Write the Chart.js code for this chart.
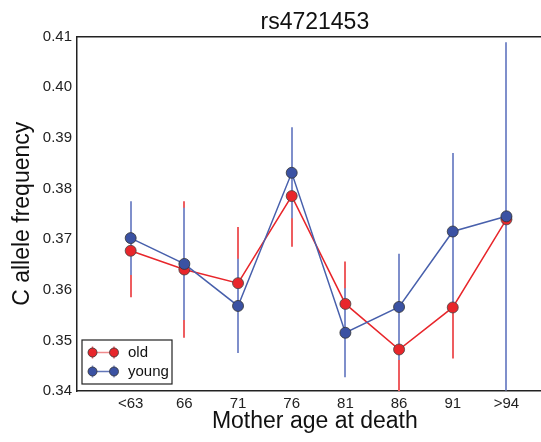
<!DOCTYPE html>
<html>
<head>
<meta charset="utf-8">
<script src="https://cdn.jsdelivr.net/npm/chart.js@4"></script>
<style>
  html, body { margin: 0; padding: 0; background: #fff; overflow: hidden; }
  #wrap { width: 559px; height: 442px; position: relative; }
</style>
</head>
<body>
<div id="wrap"><canvas id="lineChart"></canvas></div>
<script>
const categories = ["<63", "66", "71", "76", "81", "86", "91", ">94"];
const yTicks = [0.34, 0.35, 0.36, 0.37, 0.38, 0.39, 0.40, 0.41];

const oldFreq = [0.3677, 0.3640, 0.3613, 0.3785, 0.3572, 0.3482, 0.3565, 0.3739];
const oldErr = [0.0092, 0.0135, 0.0111, 0.0100, 0.0084, 0.0095, 0.0101, 0.0250];
const youngFreq = [0.3702, 0.3651, 0.3568, 0.3831, 0.3515, 0.3566, 0.3715, 0.3745];
const youngErr = [0.0073, 0.0111, 0.0093, 0.0090, 0.0088, 0.0105, 0.0155, 0.0344];

const FONT = "'Liberation Sans', Arial, sans-serif";
const RED = "#e8262b";
const BLUE = "#3b52a3";

// all error bars go under all lines and markers (old first, then young)
const errorBars = {
  id: "errorBars",
  beforeDatasetsDraw(chart) {
    const { ctx, chartArea, scales } = chart;
    ctx.save();
    ctx.beginPath();
    ctx.rect(chartArea.left, chartArea.top, chartArea.width, chartArea.height);
    ctx.clip();
    ctx.lineWidth = 2;
    chart.data.datasets.forEach((ds) => {
      if (!ds.errors) return;
      ctx.strokeStyle = ds.errorColor;
      ds.data.forEach((p, i) => {
        // snap to whole pixels so the upper bar hides the lower one completely
        const x = Math.round(scales.x.getPixelForValue(p.x));
        const y1 = scales.y.getPixelForValue(p.y - ds.errors[i]);
        const y2 = scales.y.getPixelForValue(p.y + ds.errors[i]);
        ctx.beginPath();
        ctx.moveTo(x, y1);
        ctx.lineTo(x, y2);
        ctx.stroke();
      });
    });
    ctx.restore();
  },
};

// legend box in the lower left corner of the axes
const boxLegend = {
  id: "boxLegend",
  afterDraw(chart) {
    const { ctx, chartArea } = chart;
    const left = chartArea.left + 5;
    const bottom = chartArea.bottom - 7;
    const w = 90, h = 44;
    const top = bottom - h;
    ctx.save();
    ctx.fillStyle = "#fff";
    ctx.fillRect(left, top, w, h);
    ctx.strokeStyle = "#222";
    ctx.lineWidth = 1.2;
    ctx.strokeRect(left, top, w, h);
    const items = [chart.data.datasets[0], chart.data.datasets[1]];
    items.forEach((ds, i) => {
      const y = top + 12.5 + i * 19;
      const x1 = left + 10.5, x2 = left + 32;
      ctx.strokeStyle = ds.errorColor;
      ctx.lineWidth = 1.5;
      [x1, x2].forEach((x) => {
        ctx.beginPath();
        ctx.moveTo(x, y - 6);
        ctx.lineTo(x, y + 6);
        ctx.stroke();
      });
      ctx.strokeStyle = ds.legendLine;
      ctx.beginPath();
      ctx.moveTo(x1, y);
      ctx.lineTo(x2, y);
      ctx.stroke();
      [x1, x2].forEach((x) => {
        ctx.beginPath();
        ctx.arc(x, y, 4.5, 0, Math.PI * 2);
        ctx.fillStyle = ds.pointBackgroundColor;
        ctx.fill();
        ctx.lineWidth = 0.8;
        ctx.strokeStyle = "#333";
        ctx.stroke();
      });
      ctx.fillStyle = "#111";
      ctx.font = "15px " + FONT;
      ctx.textBaseline = "middle";
      ctx.textAlign = "left";
      ctx.fillText(ds.label, left + 46, y);
    });
    ctx.restore();
  },
};

const dados = {
  datasets: [
    {
      label: "old",
      data: oldFreq.map((v, i) => ({ x: i, y: v })),
      errors: oldErr,
      errorColor: "#ee5d60",
      legendLine: "#f08a8c",
      borderColor: RED,
      borderWidth: 1.5,
      pointRadius: 5.5,
      pointBackgroundColor: RED,
      pointBorderColor: "#444",
      pointBorderWidth: 0.8,
      order: 2,
    },
    {
      label: "young",
      data: youngFreq.map((v, i) => ({ x: i, y: v })),
      errors: youngErr,
      errorColor: "#7f8fcb",
      legendLine: "#6276b8",
      borderColor: "#4860ac",
      borderWidth: 1.5,
      pointRadius: 5.5,
      pointBackgroundColor: BLUE,
      pointBorderColor: "#333",
      pointBorderWidth: 0.8,
      order: 1,
    },
  ],
};

const config = {
  type: "line",
  data: dados,
  options: {
    responsive: true,
    maintainAspectRatio: false,
    animation: false,
    layout: { padding: 0 },
    plugins: {
      legend: { display: false },
      tooltip: { enabled: false },
    },
    scales: {
      x: {
        type: "linear",
        position: "bottom",
        min: -1,
        max: 7.862,
        afterBuildTicks: (s) => {
          s.ticks = categories.map((c, i) => ({ value: i }));
        },
        afterFit: (s) => { s.height = 51; },
        grid: { display: false, drawTicks: false },
        border: { display: true, color: "#222", width: 1.5 },
        ticks: {
          padding: 4,
          maxRotation: 0,
          color: "#222",
          font: { family: FONT, size: 15 },
          callback: (v) => categories[v],
        },
        title: {
          display: true,
          text: "Mother age at death",
          color: "#111",
          font: { family: FONT, size: 23 },
          padding: { top: 0, bottom: 7 },
        },
      },
      x2: {
        type: "linear",
        position: "top",
        grid: { display: false, drawTicks: false },
        border: { display: true, color: "#222", width: 1.5 },
        ticks: { display: false },
        title: {
          display: true,
          text: "rs4721453",
          color: "#111",
          font: { family: FONT, size: 23 },
          padding: { top: 9, bottom: 0 },
        },
      },
      y: {
        min: 0.34,
        max: 0.41,
        afterBuildTicks: (s) => {
          s.ticks = yTicks.map((v) => ({ value: v }));
        },
        afterFit: (s) => { s.width = 77; },
        grid: { display: false, drawTicks: false },
        border: { display: true, color: "#222", width: 1.5 },
        ticks: {
          padding: 5,
          color: "#222",
          font: { family: FONT, size: 15 },
          callback: (v) => v.toFixed(2),
        },
        title: {
          display: true,
          text: "C allele frequency",
          color: "#111",
          font: { family: FONT, size: 23 },
          padding: { top: 9, bottom: 0 },
        },
      },
    },
  },
  plugins: [errorBars, boxLegend],
};

// Criação do gráfico
const ctx = document.getElementById("lineChart").getContext("2d");
const myChart = new Chart(ctx, config);
</script>
</body>
</html>
